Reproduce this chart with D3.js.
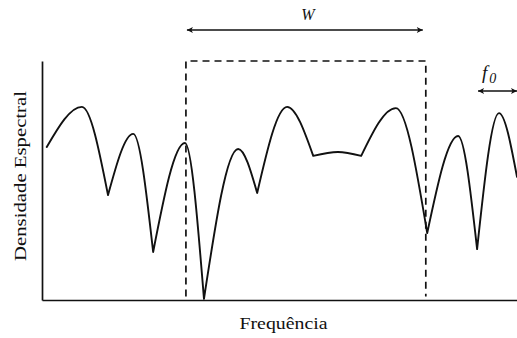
<!DOCTYPE html>
<html>
<head>
<meta charset="utf-8">
<script src="https://cdn.jsdelivr.net/npm/d3@7"></script>
<style>
  html, body { margin: 0; padding: 0; background: #fff; }
  svg { display: block; }
  text { font-family: "Liberation Serif", "Times New Roman", Times, serif; fill: #111; }
</style>
</head>
<body>
<svg id="chart" width="517" height="338"></svg>
<script>
// Spectral density curve: frequency samples and density values (arbitrary units)
const freq    = [1.0, 8.4, 13.9, 19.2, 23.4, 30.1, 34.1, 41.3, 45.3, 51.6, 57.1, 62.3, 67.2, 74.5, 81.1, 87.6, 91.6, 96.2, 100];
const density = [64.0, 80.8, 43.9, 69.5, 20.1, 65.7, 0.5, 63.2, 44.8, 80.8, 60.3, 61.9, 60.3, 80.3, 28.0, 68.6, 21.3, 78.2, 51.5];
// indices where the curve has a sharp corner (lobe boundaries)
const corners = [0, 2, 4, 6, 8, 10, 12, 14, 16, 18];

// analysis window of width W
const windowFreq = [30.3, 80.8];
const windowTop = 100;
// spacing f0 marker (right edge of plot)
const f0Span = [91.8, 100];

const labels = { x: "Frequência", y: "Densidade Espectral", w: "W", f: "f", sub: "0" };

const svg = d3.select("#chart");
const x = d3.scaleLinear().domain([0, 100]).range([42, 517]);
const y = d3.scaleLinear().domain([0, 100]).range([300, 61]);

const ink = "#111";

// arrow heads
const defs = svg.append("defs");
function marker(id, orient) {
  defs.append("marker")
    .attr("id", id).attr("viewBox", "0 0 10 10")
    .attr("refX", 10).attr("refY", 5)
    .attr("markerWidth", 10).attr("markerHeight", 6)
    .attr("markerUnits", "userSpaceOnUse")
    .attr("orient", orient)
    .append("path").attr("d", "M0,0 L10,5 L0,10 L2.5,5 Z").attr("fill", ink);
}
marker("head", "auto");
marker("headStart", "auto-start-reverse");

// axes without ticks
svg.append("g").attr("transform", `translate(${x(0)},0)`)
  .call(d3.axisLeft(y).tickValues([]).tickSizeOuter(0))
  .select(".domain").attr("stroke", ink).attr("stroke-width", 1.7);
svg.append("g").attr("transform", `translate(0,${y(0)})`)
  .call(d3.axisBottom(x).tickValues([]).tickSizeOuter(0))
  .select(".domain").attr("stroke", ink).attr("stroke-width", 1.7);

// curve: each lobe between corners drawn smooth, corners left sharp
const pts = freq.map((f, i) => [f, density[i]]);
const lobe = d3.line().x(d => x(d[0])).y(d => y(d[1])).curve(d3.curveMonotoneX);
let dPath = "";
for (let k = 0; k < corners.length - 1; k++) {
  dPath += lobe(pts.slice(corners[k], corners[k + 1] + 1));
}
svg.append("path").attr("d", dPath)
  .attr("fill", "none").attr("stroke", ink).attr("stroke-width", 1.9)
  .attr("stroke-linejoin", "round").attr("stroke-linecap", "round");

// dashed window
svg.append("path")
  .attr("d", `M${x(windowFreq[0])},${y(1.5)} V${y(windowTop)} H${x(windowFreq[1])} V${y(1.5)}`)
  .attr("fill", "none").attr("stroke", ink).attr("stroke-width", 1.7)
  .attr("stroke-dasharray", "7,5");

// W arrow
svg.append("line")
  .attr("x1", x(windowFreq[0]) + 1).attr("x2", x(windowFreq[1]) - 3)
  .attr("y1", 30).attr("y2", 30)
  .attr("stroke", ink).attr("stroke-width", 1.6)
  .attr("marker-start", "url(#headStart)").attr("marker-end", "url(#head)");
svg.append("text")
  .attr("x", (x(windowFreq[0]) + x(windowFreq[1])) / 2 + 2).attr("y", 20)
  .attr("text-anchor", "middle").attr("font-size", 16).attr("font-style", "italic")
  .text(labels.w);

// f0 arrow
svg.append("line")
  .attr("x1", x(f0Span[0])).attr("x2", x(f0Span[1]))
  .attr("y1", 91).attr("y2", 91)
  .attr("stroke", ink).attr("stroke-width", 1.5)
  .attr("marker-start", "url(#headStart)").attr("marker-end", "url(#head)");
const fl = svg.append("text").attr("x", 482).attr("y", 79)
  .attr("font-size", 19).attr("font-style", "italic");
fl.append("tspan").text(labels.f);
fl.append("tspan").attr("dy", 4).attr("dx", 2).attr("font-size", 14).text(labels.sub);

// axis titles
svg.append("text")
  .attr("x", (x(0) + x(100)) / 2 + 4).attr("y", 329)
  .attr("text-anchor", "middle").attr("font-size", 17)
  .attr("textLength", 88).attr("lengthAdjust", "spacingAndGlyphs")
  .text(labels.x);
svg.append("text")
  .attr("transform", "translate(26,176) rotate(-90)")
  .attr("text-anchor", "middle").attr("font-size", 17)
  .attr("textLength", 170).attr("lengthAdjust", "spacingAndGlyphs")
  .text(labels.y);
</script>
</body>
</html>
